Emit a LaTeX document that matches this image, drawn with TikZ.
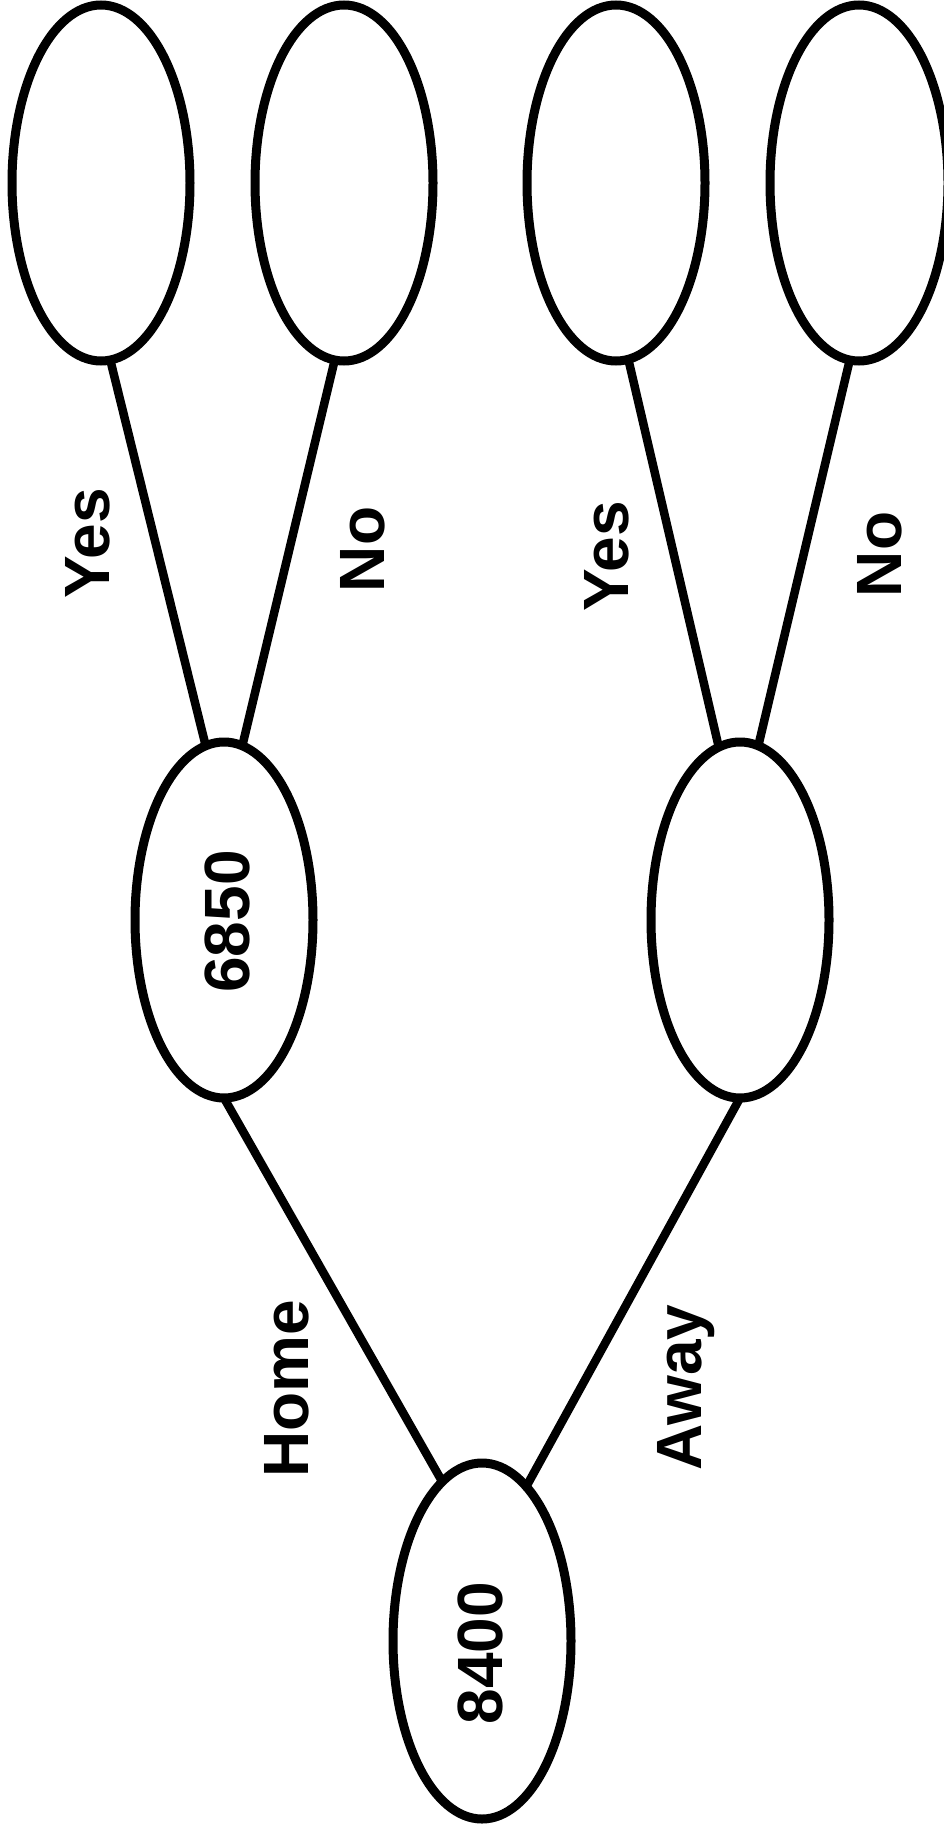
\documentclass[tikz,border=0pt]{standalone}
\usepackage{fontspec}
\setmainfont{Liberation Sans}
\usetikzlibrary{shapes.geometric}
\begin{document}
\begin{tikzpicture}[x=1pt,y=-1pt,
  ell/.style={draw=black, fill=white, ellipse, line width=9pt, minimum width=178pt, minimum height=356pt, inner sep=0pt, outer sep=0pt},
  conn/.style={draw=black, line width=8.5pt},
  lbl/.style={rotate=90, anchor=base, inner sep=0pt, font=\fontsize{64}{72}\selectfont\bfseries}]
\useasboundingbox (0,0) rectangle (944,1827);
\fill[white] (0,0) rectangle (944,1827);
% nodes
\node[ell] (t1) at (101,183) {};
\node[ell] (t2) at (344,183) {};
\node[ell] (t3) at (616,183) {};
\node[ell] (t4) at (859,183) {};
\node[ell] (m1) at (224,920) {};
\node[ell] (m2) at (740,920) {};
\node[ell] (b) at (482,1641) {};
% connectors
\draw[conn] (t1.-87) -- (m1.96);
\draw[conn] (t2.-93) -- (m1.84);
\draw[conn] (t3.-86) -- (m2.97);
\draw[conn] (t4.-93) -- (m2.84);
\draw[conn] (m1.south) -- (b.104.6);
\draw[conn] (m2.south) -- (b.74.7);
% labels
\node[lbl] (v1) at (249,921.5) {6850};
\node[lbl] (v0) at (502,1653) {8400};
\node[lbl] (y1) at (109,543) {Yes};
\node[lbl] (n1) at (384,549.5) {No};
\node[lbl] (y2) at (628,556.5) {Yes};
\node[lbl] (n2) at (901,554.5) {No};
\node[lbl] (home) at (308,1388.5) {Home};
\node[lbl] (away) at (701,1387.5) {Away};
\end{tikzpicture}
\end{document}
